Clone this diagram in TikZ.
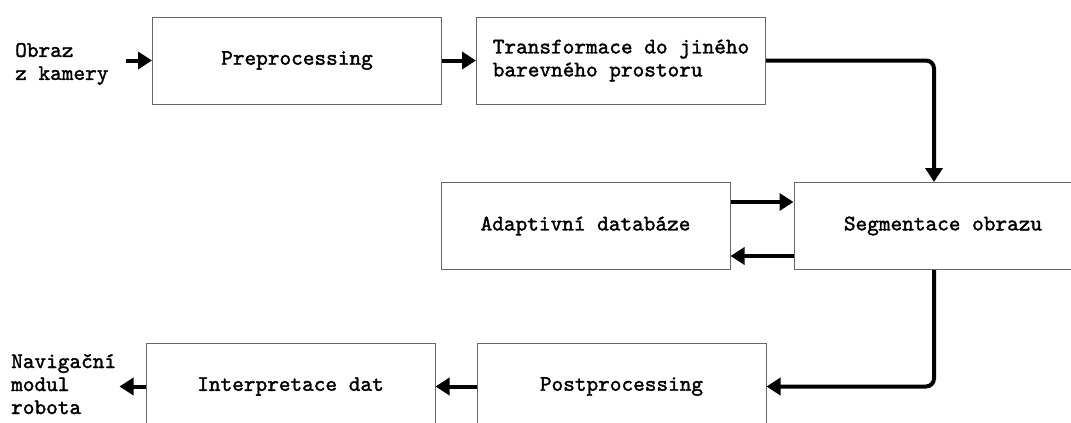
\documentclass[tikz,border=0pt]{standalone}
\usepackage{fontspec}
\newfontfamily\boxfont{lmmono10-regular}[Extension=.otf, FakeBold=1.6]
\usetikzlibrary{positioning,arrows.meta}

\begin{document}
\begin{tikzpicture}[
    x=1pt, y=-1pt,
    every node/.style={font=\boxfont\fontsize{22.2}{23}\selectfont},
    block/.style={rectangle, draw=black!60, line width=1pt, minimum width=289pt, minimum height=87pt, inner sep=0pt, align=center},
    io/.style={align=left, inner sep=0pt, anchor=west},
    flow/.style={line width=4pt, -{Triangle[length=14pt, width=17pt]}}
]
    \useasboundingbox (0,0) rectangle (1071,423);
    \clip (0,0) rectangle (1071,423);

    \node[block] (pre) at (297,60.5) {Preprocessing};
    \node[block, align=left, right=34pt of pre] (trans) {Transformace do jiného\\barevného prostoru};
    \node[block, minimum width=298pt] (seg) at (943,226) {Segmentace obrazu};
    \node[block, left=63pt of seg] (adapt) {Adaptivní databáze};
    \node[block] (post) at (621.5,386.5) {Postprocessing};
    \node[block, left=41pt of post] (interp) {Interpretace dat};

    \node[io] (cam) at (15,64) {Obraz\\z kamery};
    \node[io] (nav) at (11,384) {Navigační\\modul\\robota};

    \draw[flow] ([xshift=-26pt]pre.west) -- (pre.west);
    \draw[flow] (pre) -- (trans);
    \draw[flow, rounded corners=8pt] (trans.east) -| ([xshift=-9pt]seg.north);
    \draw[flow] ([yshift=24pt]adapt.east) -- ([yshift=24pt]adapt.east -| seg.west);
    \draw[flow] ([yshift=-30pt]seg.west) -- ([yshift=-30pt]seg.west -| adapt.east);
    \draw[flow, rounded corners=8pt] ([xshift=-9pt]seg.south) |- (post.east);
    \draw[flow] (post) -- (interp);
    \draw[flow] (interp.west) -- ([xshift=-26pt]interp.west);
\end{tikzpicture}
\end{document}
